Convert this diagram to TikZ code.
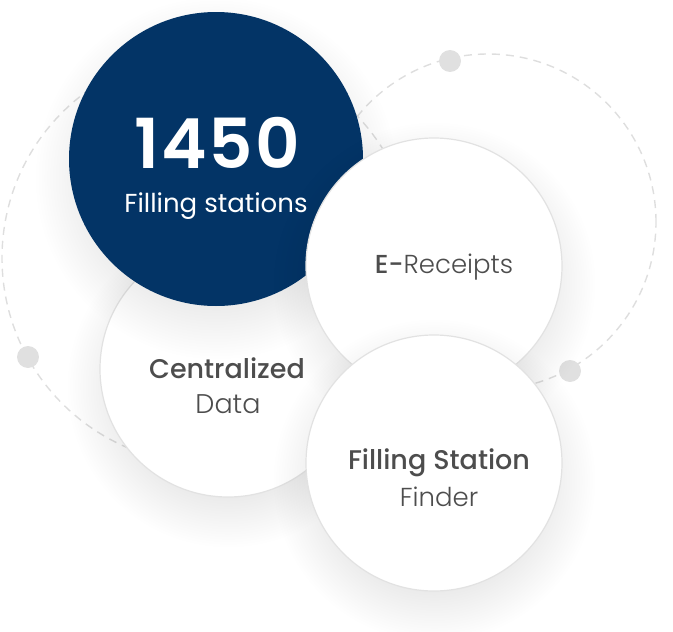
\documentclass[tikz,border=0pt]{standalone}
\usepackage{fontspec}
\setmainfont{Poppins}
\newfontfamily\popmedium{Poppins Medium}
\newfontfamily\poplight{Poppins Light}
\newfontfamily\popsemi{Poppins SemiBold}[LetterSpace=3]

\definecolor{navyblue}{RGB}{3,52,102}
\definecolor{ringgray}{RGB}{222,222,222}
\definecolor{dotgray}{RGB}{224,224,224}
\definecolor{edgegray}{RGB}{226,226,226}
\definecolor{textgray}{RGB}{77,77,77}

% Soft round shading used for the drop shadows (multiplied onto what lies below)
% (25bp is the rim of the shaded circle)
\pgfdeclareradialshading{shadowshading}{\pgfpoint{0bp}{0bp}}{color(0bp)=(black!9); color(16bp)=(black!9); color(20bp)=(black!5); color(25bp)=(white); color(50bp)=(white)}

\begin{document}
\begin{tikzpicture}[x=1pt,y=-1pt,
    ring/.style={ringgray, line width=1.4pt, dash pattern=on 8pt off 6pt},
    dot/.style={circle, fill=dotgray, inner sep=0pt, minimum size=22pt},
    shadowdisc/.style={shading=shadowshading, blend mode=multiply},
    bubble/.style={circle, draw=edgegray, line width=1.2pt, fill=white,
        inner sep=0pt, minimum size=256pt},
    caption/.style={text=textgray, anchor=base, font=\fontsize{26}{26}\selectfont}]

    \useasboundingbox (0,0) rectangle (673,632);

    % Centres of the two dashed orbits behind the bubbles
    \coordinate (leftorbit) at (208,258);
    \coordinate (rightorbit) at (488,222);

    % Dashed orbits
    \draw[ring] (leftorbit) circle (206pt);
    \draw[ring] (rightorbit) circle (168pt);

    % Dots sitting on the orbits
    \node[dot] (dottop) at (450,61) {};
    \node[dot] (dotright) at (570,371) {};
    \node[dot] (dotleft) at (28,357) {};

    % Bubbles, back to front, each one over its own shadow
    \shade[shadowdisc] (228,386) circle (162pt);
    \node[bubble] (data) at (228,369) {};
    \shade[shadowdisc] (216,178) circle (182pt);
    \node[bubble, fill=navyblue, draw=none, minimum size=294pt] (stations) at (216,159) {};
    \shade[shadowdisc] (434,283) circle (162pt);
    \node[bubble] (receipts) at (434,266) {};
    \shade[shadowdisc] (434,480) circle (162pt);
    \node[bubble] (finder) at (434,463) {};

    % Big figure
    \node[text=white, font=\popsemi\fontsize{69}{69}\selectfont] (count) at (217,143) {1450};
    \node[text=white, anchor=base, font=\fontsize{26}{26}\selectfont] (countlabel) at (216,212.5) {Filling stations};

    % Captions of the white bubbles
    \node[caption] (receiptslabel) at (444,273) {{\popmedium E-}{\poplight Receipts}};
    \node[caption] (datatitle) at (227,378) {\popmedium\fontsize{27}{27}\selectfont Centralized};
    \node[caption] (datasub) at (228,413) {\poplight\fontsize{27}{27}\selectfont Data};
    \node[caption] (findertitle) at (439,469) {\popmedium\fontsize{27}{27}\selectfont Filling Station};
    \node[caption] (findersub) at (439,506) {\poplight Finder};

\end{tikzpicture}
\end{document}
